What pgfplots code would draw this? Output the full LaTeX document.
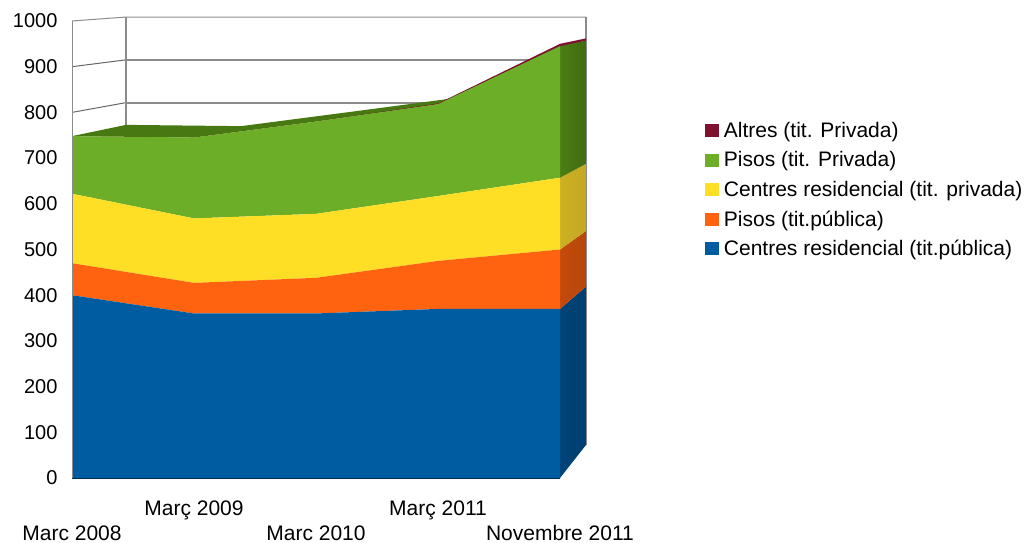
\documentclass[border=0pt]{standalone}
\usepackage{fontspec}
\setmainfont{Liberation Sans}
\usepackage{pgfplots}
\pgfplotsset{compat=1.18}
\definecolor{cblue}{HTML}{005CA0}
\definecolor{cblueD}{HTML}{003F70}
\definecolor{corange}{HTML}{FF630F}
\definecolor{corangeD}{HTML}{B8460B}
\definecolor{cyellow}{HTML}{FFDF25}
\definecolor{cyellowD}{HTML}{C4A823}
\definecolor{cgreen}{HTML}{6CAE27}
\definecolor{cgreenD}{HTML}{477812}
\definecolor{cred}{HTML}{7E1030}
\definecolor{gridc}{HTML}{8C8C8C}
\newcommand{\lab}{\fontsize{21}{24}\selectfont}
\pgfplotsset{frame/.style={
  at={(72pt,64pt)},anchor=south west,scale only axis,width=488pt,height=457pt,
  xmin=0,xmax=4,ymin=0,ymax=1000,clip=false,axis line style={draw=none}}}
\begin{document}
\begin{tikzpicture}[x=1pt,y=1pt]
\path[use as bounding box] (0,0) rectangle (1035,542);
% back wall, grid, depth faces
\begin{axis}[frame,ticks=none]
\addplot[gridc,line width=1pt] coordinates {(0,1000)(0.4426,1008.7)(4.213,1008.7)};
\addplot[gridc,line width=2pt] coordinates {(0.4426,915)(4.213,915)};
\addplot[gridc,line width=2pt] coordinates {(0.4426,821.4)(4.213,821.4)};
\addplot[black!60,line width=1pt] coordinates {(0,900)(0.4426,915)};
\addplot[black!60,line width=1pt] coordinates {(0,800)(0.4426,821.4)};
\addplot[gridc,line width=2.4pt] coordinates {(0.4426,1008.7)(0.4426,770)};
\addplot[gridc,line width=2.4pt] coordinates {(4.213,1008.7)(4.213,72.2)};
\addplot[gridc,line width=1pt] coordinates {(0,1000)(0,0)};
% top surface
\addplot[fill=cgreenD,draw=none] coordinates {(0,748)(1,745)(2,780)(3,818)(4,948)(4.213,960)(3.2704,836)(2.3278,802.7)(1.3852,769.9)(0.4426,772.7)} -- cycle;
% right faces
\addplot[draw=none,shade,left color=cblueD!85!cblue,right color=cblueD] coordinates {(4,0)(4,370)(4.213,418.7)(4.213,72.2)} -- cycle;
\addplot[draw=none,shade,left color=corangeD!85!corange,right color=corangeD] coordinates {(4,370)(4,500)(4.213,540.5)(4.213,418.7)} -- cycle;
\addplot[draw=none,shade,left color=cyellowD!85!cyellow,right color=cyellowD] coordinates {(4,500)(4,657)(4.213,687.5)(4.213,540.5)} -- cycle;
\addplot[draw=none,shade,left color=cgreenD!90!cgreen,right color=cgreenD!90!black] coordinates {(4,657)(4,945)(4.213,957.2)(4.213,687.5)} -- cycle;
\addplot[fill=cred,draw=none] coordinates {(4,945)(4,950)(4.213,962)(4.213,957.2)} -- cycle;
\end{axis}
% front stacked areas
\begin{axis}[frame,stack plots=y,area style,
  axis x line=bottom,axis y line=left,
  x axis line style={draw=cblueD!70!black,line width=0.8pt,-},
  y axis line style={draw=gridc,line width=0.6pt,-},
  tick style={draw=none},
  major tick length=0pt,
  ytick={0,100,...,1000},
  xtick=\empty,
  /pgf/number format/assume math mode=true,
  /pgf/number format/1000 sep={},
  yticklabel style={font=\fontsize{20}{24}\selectfont,xshift=-11pt},
  legend style={at={(rel axis cs:1.297,0.783)},anchor=north west,draw=none,fill=none,
    font=\lab,row sep=8.8pt,inner sep=0pt,outer sep=0pt},
  legend cell align=left,reverse legend,
  legend image code/.code={\path[#1] (0pt,-6.5pt) rectangle (14pt,6.5pt);\path (17pt,0pt);},
  extra description/.code={
    \node[font=\lab,anchor=base,inner sep=0pt] at (axis cs:0,-135.7) {Marc 2008};
    \node[font=\lab,anchor=base,inner sep=0pt] at (axis cs:1,-81) {Març 2009};
    \node[font=\lab,anchor=base,inner sep=0pt] at (axis cs:2,-135.7) {Marc 2010};
    \node[font=\lab,anchor=base,inner sep=0pt] at (axis cs:3,-81) {Març 2011};
    \node[font=\lab,anchor=base,inner sep=0pt] at (axis cs:4,-135.7) {Novembre 2011};
  }]
\addplot[fill=cblue,draw=none] coordinates {(0,400)(1,360)(2,360)(3,370)(4,370)} \closedcycle;
\addlegendentry{Centres residencial (tit.pública)}
\addplot[fill=corange,draw=none] coordinates {(0,70)(1,67)(2,78)(3,105)(4,130)} \closedcycle;
\addlegendentry{Pisos (tit.pública)}
\addplot[fill=cyellow,draw=none] coordinates {(0,152)(1,141)(2,140)(3,142)(4,157)} \closedcycle;
\addlegendentry{Centres residencial (tit. privada)}
\addplot[fill=cgreen,draw=none] coordinates {(0,126)(1,177)(2,202)(3,201)(4,288)} \closedcycle;
\addlegendentry{Pisos (tit. Privada)}
\addplot[fill=cred,draw=none] coordinates {(0,0)(1,0)(2,0)(3,1.5)(4,5)} \closedcycle;
\addlegendentry{Altres (tit. Privada)}
\end{axis}
\end{tikzpicture}
\end{document}
